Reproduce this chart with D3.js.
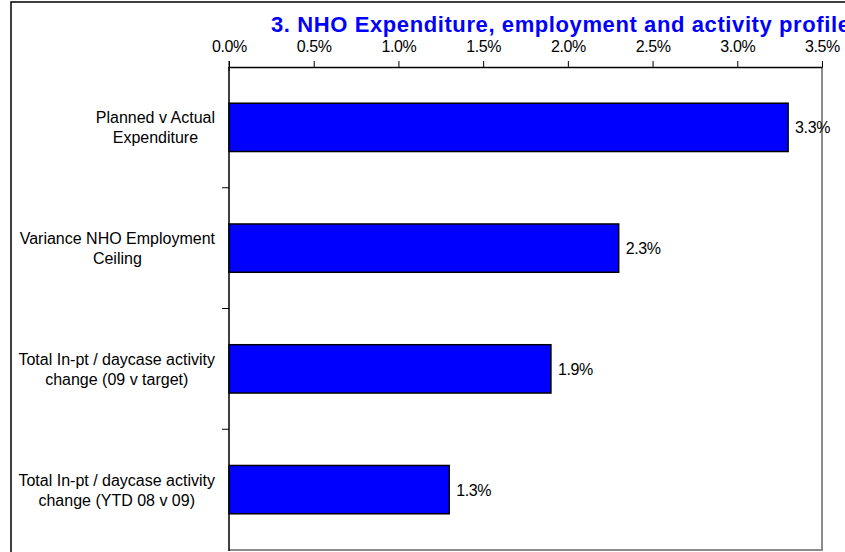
<!DOCTYPE html>
<html>
<head>
<meta charset="utf-8">
<script src="https://cdn.jsdelivr.net/npm/d3@7"></script>
<style>
  html, body { margin: 0; padding: 0; background: #fff; }
  svg { display: block; font-family: "Liberation Sans", Arial, sans-serif; }
</style>
</head>
<body>
<svg id="chart" width="845" height="552"></svg>
<script>
// Category labels (each entry is a two-line label)
const categories = [
  ["Planned v Actual", "Expenditure"],
  ["Variance NHO Employment", "Ceiling"],
  ["Total In-pt / daycase activity", "change (09 v target)"],
  ["Total In-pt / daycase activity", "change (YTD 08 v 09)"]
];
// Percentage values
const values = [3.3, 2.3, 1.9, 1.3];
const valueLabels = ["3.3%", "2.3%", "1.9%", "1.3%"];
const tickValues = [0, 0.5, 1.0, 1.5, 2.0, 2.5, 3.0, 3.5];
const tickLabels = ["0.0%", "0.5%", "1.0%", "1.5%", "2.0%", "2.5%", "3.0%", "3.5%"];
const title = "3. NHO Expenditure, employment and activity profile";

const svg = d3.select("#chart");

// outer chart frame
svg.append("rect")
  .attr("x", 11).attr("y", 2)
  .attr("width", 900).attr("height", 600)
  .attr("fill", "#fff").attr("stroke", "#000").attr("stroke-width", 1.5);

const plot = { left: 229, right: 822, top: 67, bottom: 550 };

const x = d3.scaleLinear().domain([0, 3.5]).range([plot.left, plot.right]);
const y = d3.scaleBand()
  .domain(d3.range(categories.length))
  .range([plot.top, plot.bottom])
  .paddingInner(0.6).paddingOuter(0.3);

// plot area border (right and bottom in grey)
svg.append("path")
  .attr("d", `M${plot.right},${plot.top}V${plot.bottom}H${plot.left}`)
  .attr("fill", "none").attr("stroke", "#8c8c8c").attr("stroke-width", 2);

// title
svg.append("text")
  .attr("x", 271).attr("y", 32)
  .attr("fill", "#0000ff")
  .attr("font-weight", "bold")
  .attr("font-size", 22)
  .attr("letter-spacing", "0.6px")
  .text(title);

// top value axis
const xAxis = d3.axisTop(x)
  .tickValues(tickValues)
  .tickFormat((d, i) => tickLabels[i])
  .tickSize(6).tickSizeOuter(0);
const gx = svg.append("g")
  .attr("transform", `translate(0,${plot.top})`)
  .call(xAxis);
gx.select(".domain").attr("stroke", "#000").attr("stroke-width", 1.5);
gx.selectAll(".tick line").attr("stroke", "#000");
gx.selectAll(".tick text")
  .attr("font-size", 16).attr("fill", "#000")
  .attr("font-family", "Liberation Sans, Arial, sans-serif")
  .attr("letter-spacing", "-0.4px")
  .attr("dy", null)
  .attr("y", -15);
svg.append("line")
  .attr("x1", plot.left).attr("x2", plot.left)
  .attr("y1", plot.top - 6).attr("y2", plot.top + 4)
  .attr("stroke", "#000");

// category axis line with ticks between bands
svg.append("line")
  .attr("x1", plot.left).attr("x2", plot.left)
  .attr("y1", plot.top).attr("y2", plot.bottom + 1)
  .attr("stroke", "#000").attr("stroke-width", 1.5);
const step = y.step();
const bounds = d3.range(1, categories.length).map(i => y(i) - y.paddingInner() * step / 2);
svg.selectAll(".ytick").data(bounds).join("line")
  .attr("class", "ytick")
  .attr("x1", plot.left - 7).attr("x2", plot.left)
  .attr("y1", d => d).attr("y2", d => d)
  .attr("stroke", "#000");

// bars
svg.selectAll(".bar").data(values).join("rect")
  .attr("class", "bar")
  .attr("x", x(0))
  .attr("y", (d, i) => y(i))
  .attr("width", d => x(d) - x(0))
  .attr("height", y.bandwidth())
  .attr("fill", "#0000ff")
  .attr("stroke", "#000").attr("stroke-width", 1.5);

// value labels
svg.selectAll(".vlabel").data(values).join("text")
  .attr("class", "vlabel")
  .attr("x", d => x(d) + 7)
  .attr("y", (d, i) => y(i) + y.bandwidth() / 2 + 6)
  .attr("font-size", 16)
  .attr("letter-spacing", "-0.4px")
  .attr("fill", "#000")
  .text((d, i) => valueLabels[i]);

// category labels: a right-aligned block whose lines are centred
const labelRight = 215;
categories.forEach((lines, i) => {
  const g = svg.append("g");
  const texts = lines.map((t, j) => g.append("text")
    .attr("font-size", 16)
    .attr("text-anchor", "middle")
    .attr("fill", "#000")
    .attr("y", y(i) + y.bandwidth() / 2 - 4 + j * 20)
    .text(t));
  const w = d3.max(texts, t => t.node().getComputedTextLength());
  texts.forEach(t => t.attr("x", labelRight - w / 2));
});
</script>
</body>
</html>
